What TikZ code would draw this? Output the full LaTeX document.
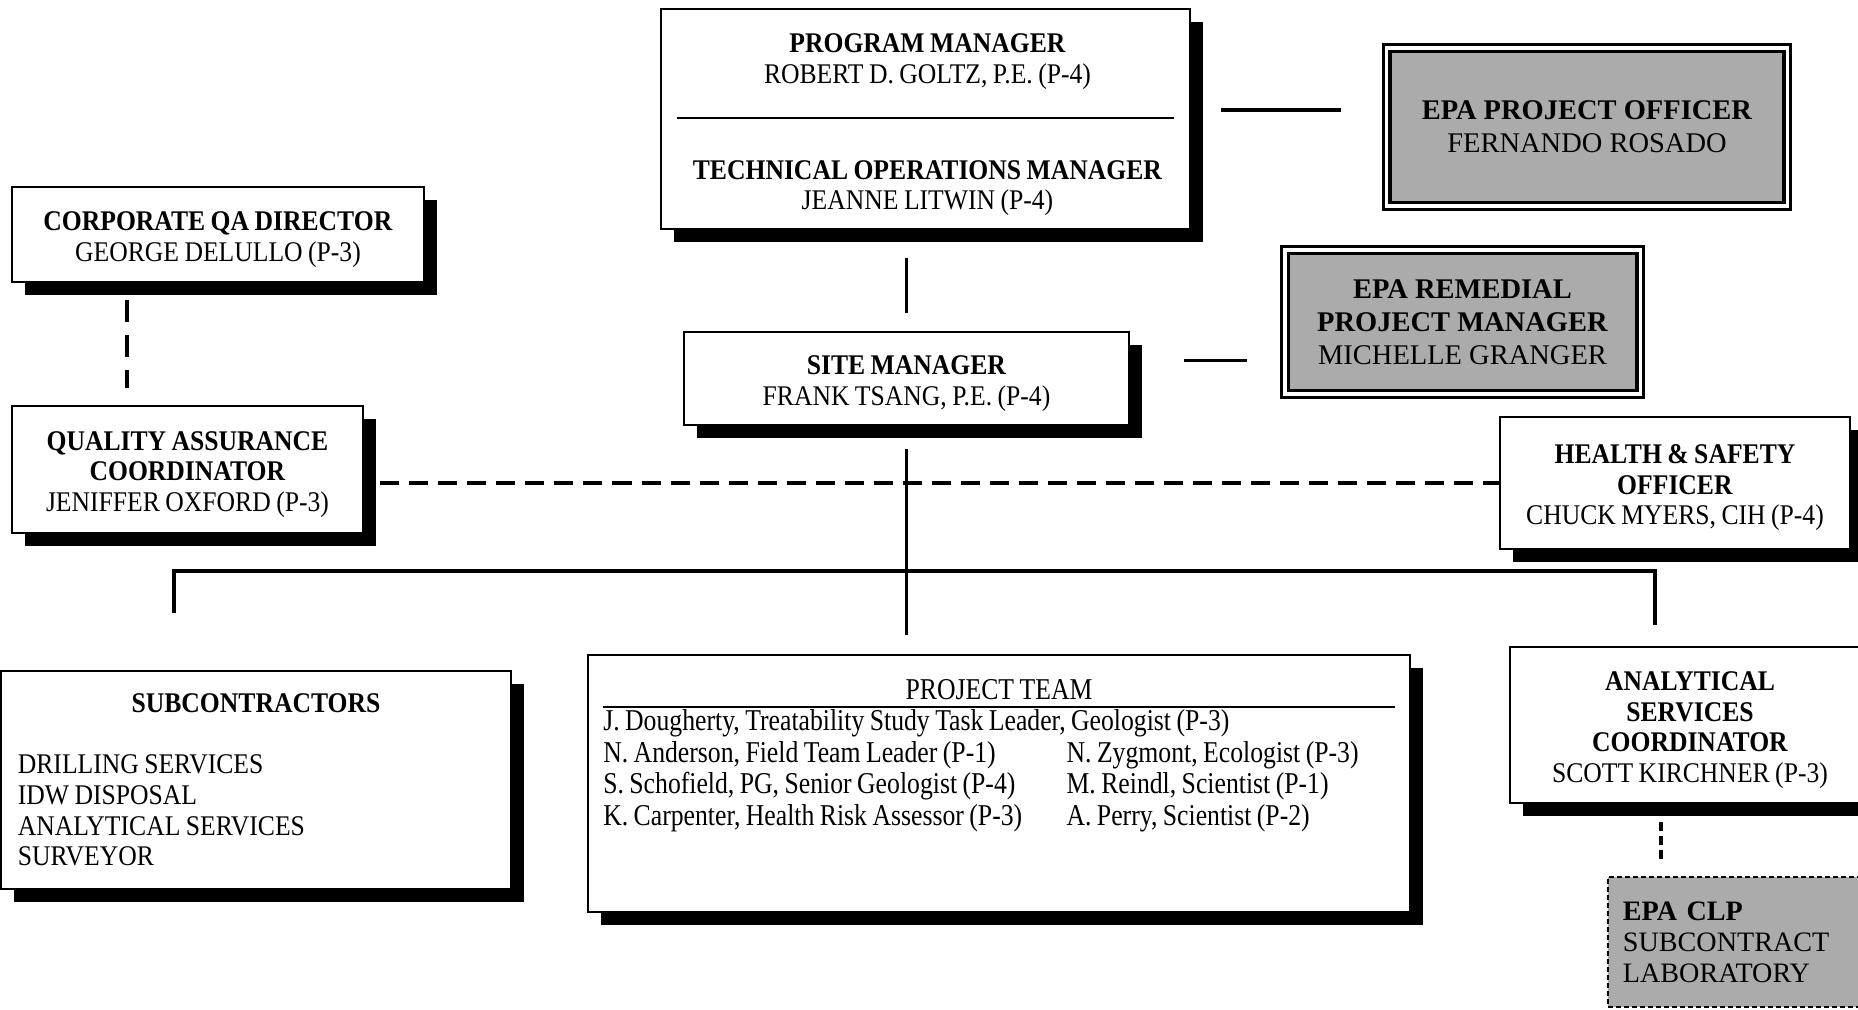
\documentclass[tikz,border=0pt]{standalone}
\usepackage{fontspec}
\setmainfont{Liberation Serif}[FakeStretch=0.9, WordSpace=0.85]
\newfontfamily\epafont{Liberation Serif}
\newfontfamily\teamfont{Liberation Serif}[FakeStretch=0.85, WordSpace=0.85]
\usetikzlibrary{calc,shadows}
\newcommand{\capstrut}{\rule{0pt}{8.2pt}}

\begin{document}
\begin{tikzpicture}[x=0.01cm, y=-0.01cm,
        every node/.style={font=\fontsize{8.1}{8.7}\selectfont},
        txt/.style={align=center, inner sep=0pt},
        box/.style={draw, line width=0.7pt, fill=white, align=center, inner sep=0pt,
          drop shadow={shadow xshift=0.13cm, shadow yshift=-0.13cm, fill=black, opacity=1}},
        epabox/.style={draw, line width=0.9pt, double=white, double distance=0.9pt,
          fill=black!33, align=center, inner sep=0pt,
          font=\epafont\fontsize{8.1}{9.4}\selectfont},
        labbox/.style={draw, line width=0.6pt, dash pattern=on 0.05cm off 0.03cm,
          fill=black!33, align=left, inner xsep=0.15cm, inner ysep=0pt,
          font=\epafont\fontsize{8}{8.8}\selectfont},
        solidline/.style={line width=0.9pt},
        dashline/.style={line width=0.9pt, dash pattern=on 0.19cm off 0.1cm},
        longdash/.style={line width=0.9pt, dash pattern=on 0.22cm off 0.13cm},
        shortdash/.style={line width=1pt, dash pattern=on 0.09cm off 0.05cm}]

	\useasboundingbox (0, 0) rectangle (1858, 1010);

	\node [box, minimum width=5.29cm, minimum height=2.20cm] (pm) at (925.5, 119) {};
	\node [txt] (pmhead) at ($(pm.north)+(2, 54)$) {\textbf{PROGRAM MANAGER}\\ROBERT D. GOLTZ, P.E. (P-4)};
	\node [txt] (tomhead) at ($(pm.south)+(2, -42)$) {\textbf{TECHNICAL OPERATIONS MANAGER}\\JEANNE LITWIN (P-4)};
	\draw [line width=0.8pt] ($(pm.west)+(17, -1)$) -- ($(pm.east)+(-17, -1)$);

	\node [epabox, minimum width=4.00cm, minimum height=1.58cm] (epo) at (1587, 127)
		{\textbf{EPA PROJECT OFFICER}\\FERNANDO ROSADO};
	\node [epabox, minimum width=3.55cm, minimum height=1.44cm] (erpm) at (1462.5, 322)
		{\textbf{EPA REMEDIAL}\\\textbf{PROJECT MANAGER}\\MICHELLE GRANGER};

	\node [box, minimum width=4.12cm, minimum height=0.95cm] (cqa) at (218, 234.5)
		{\capstrut\textbf{CORPORATE QA DIRECTOR}\\GEORGE DELULLO (P-3)};
	\node [box, minimum width=3.51cm, minimum height=1.27cm] (qac) at (187.5, 469.5)
		{\capstrut\textbf{QUALITY ASSURANCE}\\\textbf{COORDINATOR}\\JENIFFER OXFORD (P-3)};
	\node [box, minimum width=4.45cm, minimum height=0.93cm] (sm) at (906.5, 378.5)
		{\capstrut\textbf{SITE MANAGER}\\FRANK TSANG, P.E. (P-4)};
	\node [box, minimum width=3.50cm, minimum height=1.32cm] (hs) at (1675, 483)
		{\capstrut\textbf{HEALTH \& SAFETY}\\\textbf{OFFICER}\\CHUCK MYERS, CIH (P-4)};

	\node [box, align=left, text width=4.76cm, inner xsep=0.17cm, minimum height=2.18cm] (sub) at (256, 780)
		{\spaceskip=\fontdimen2\font\makebox[\hsize][c]{\textbf{SUBCONTRACTORS}}\\[8.7pt]DRILLING SERVICES\\IDW DISPOSAL\\ANALYTICAL SERVICES\\SURVEYOR};
	\node [box, minimum width=8.22cm, minimum height=2.57cm] (team) at (999, 783.5) {};
	\node [anchor=north, inner sep=0pt, font=\teamfont\fontsize{8.6}{9.0}\selectfont] (teamlist)
		at ($(team.north)+(0, 23)$) {%
		\begin{tabular}{@{}p{4.63cm}@{}p{3.28cm}@{}}
		\multicolumn{2}{@{}c@{}}{PROJECT TEAM}\\[-1pt]
		\noalign{\hrule height 0.8pt}
		\multicolumn{2}{@{}l@{}}{J. Dougherty, Treatability Study Task Leader, Geologist (P-3)}\\
		N. Anderson, Field Team Leader (P-1) & N. Zygmont, Ecologist (P-3)\\
		S. Schofield, PG, Senior Geologist (P-4) & M. Reindl, Scientist (P-1)\\
		K. Carpenter, Health Risk Assessor (P-3) & A. Perry, Scientist (P-2)
		\end{tabular}};
	\node [box, minimum width=3.60cm, minimum height=1.56cm] (asc) at (1690, 725)
		{\capstrut\textbf{ANALYTICAL}\\\textbf{SERVICES}\\\textbf{COORDINATOR}\\SCOTT KIRCHNER (P-3)};
	\node [labbox, text width=2.32cm, minimum height=1.30cm] (clp) at (1739, 942)
		{\textbf{EPA CLP}\\SUBCONTRACT\\LABORATORY};

	\coordinate (epotap) at ([yshift=0.17cm]epo.west);
	\coordinate (smtap) at ([yshift=0.18cm]sm.east);
	\coordinate (cqatap) at ([xshift=-0.91cm]cqa.south);
	\coordinate (asctap) at ([xshift=-0.29cm]asc.south);
	\coordinate (busL) at (174, 571);
	\coordinate (busR) at (1655, 571);

	\draw [solidline, shorten <=0.28cm, shorten >=0.18cm] (pm.south -| sm.north) -- (sm.north);
	\draw [solidline, shorten <=0.30cm, shorten >=0.44cm] (epotap -| pm.east) -- (epotap);
	\draw [solidline, shorten <=0.54cm, shorten >=0.36cm] (smtap) -- (smtap -| erpm.west);
	\draw [longdash, shorten <=0.17cm, shorten >=0.17cm] (cqatap) -- (cqatap |- qac.north);
	\draw [dashline, shorten <=0.16cm] (qac.east |- hs.west) -- (hs.west);
	\draw [solidline, shorten <=0.23cm, shorten >=0.19cm] (sm.south) -- (sm.south |- team.north);
	\draw [solidline] ($(busL |- sub.north)+(0, -57)$) -- (busL) -- (busR) -- ($(busR |- asc.north)+(0, -21)$);
	\draw [shortdash, shorten <=0.18cm, shorten >=0.12cm] (asctap) -- (asctap |- clp.north);
\end{tikzpicture}
\end{document}
